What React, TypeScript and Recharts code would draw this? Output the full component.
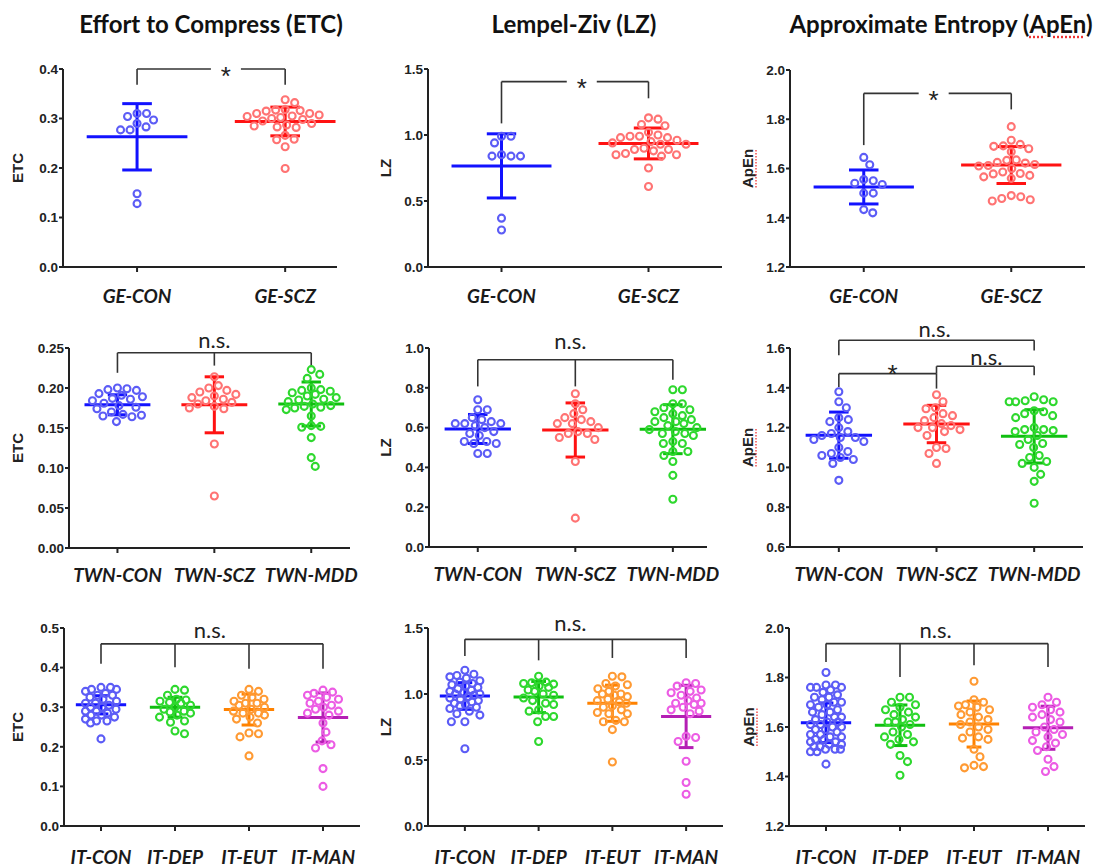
import React from 'react'
import {
  ScatterChart,
  Scatter,
  XAxis,
  YAxis,
  ReferenceLine,
  ReferenceDot,
} from 'recharts'

// group names
const geGroups = ['GE-CON', 'GE-SCZ']
const twnGroups = ['TWN-CON', 'TWN-SCZ', 'TWN-MDD']
const itGroups = ['IT-CON', 'IT-DEP', 'IT-EUT', 'IT-MAN']

// GE cohort
const geEtcCon = [0.31, 0.31, 0.304, 0.297, 0.29, 0.283, 0.277, 0.277, 0.148, 0.128]
const geEtcScz = [0.338, 0.332, 0.318, 0.317, 0.316, 0.315, 0.31, 0.31, 0.307, 0.305, 0.304, 0.302, 0.3, 0.298, 0.295, 0.29, 0.287, 0.285, 0.283, 0.282, 0.266, 0.258, 0.257, 0.243, 0.199]
const geEtcMean = [0.263, 0.294]
const geEtcSd = [0.067, 0.029]

const geLzCon = [0.99, 0.99, 0.94, 0.85, 0.84, 0.84, 0.84, 0.37, 0.28]
const geLzScz = [1.13, 1.12, 1.08, 1.07, 1.02, 1.0, 0.99, 0.99, 0.98, 0.98, 0.96, 0.95, 0.94, 0.93, 0.93, 0.9, 0.89, 0.89, 0.88, 0.86, 0.85, 0.85, 0.84, 0.75, 0.61]
const geLzMean = [0.766, 0.936]
const geLzSd = [0.243, 0.117]

const geApCon = [1.645, 1.615, 1.555, 1.55, 1.54, 1.535, 1.5, 1.5, 1.433, 1.42]
const geApScz = [1.77, 1.715, 1.698, 1.692, 1.69, 1.68, 1.668, 1.635, 1.633, 1.625, 1.622, 1.616, 1.612, 1.61, 1.6, 1.586, 1.58, 1.578, 1.572, 1.566, 1.56, 1.49, 1.485, 1.478, 1.473, 1.468]
const geApMean = [1.525, 1.614]
const geApSd = [0.069, 0.075]

// TWN cohort
const twnEtcCon = [0.2, 0.199, 0.198, 0.197, 0.193, 0.191, 0.189, 0.187, 0.186, 0.184, 0.181, 0.178, 0.176, 0.174, 0.17, 0.167, 0.166, 0.165, 0.164, 0.158]
const twnEtcScz = [0.214, 0.203, 0.2, 0.197, 0.195, 0.192, 0.19, 0.188, 0.186, 0.184, 0.182, 0.18, 0.177, 0.175, 0.174, 0.13, 0.065]
const twnEtcMdd = [0.223, 0.217, 0.212, 0.2, 0.198, 0.197, 0.196, 0.194, 0.192, 0.19, 0.188, 0.186, 0.185, 0.183, 0.18, 0.178, 0.177, 0.176, 0.175, 0.173, 0.165, 0.153, 0.152, 0.151, 0.138, 0.113, 0.102]
const twnEtcMean = [0.179, 0.179, 0.18]
const twnEtcSd = [0.0125, 0.035, 0.0275]

const twnLzCon = [0.74, 0.69, 0.69, 0.65, 0.64, 0.63, 0.62, 0.62, 0.62, 0.61, 0.6, 0.58, 0.57, 0.56, 0.53, 0.53, 0.52, 0.52, 0.47, 0.47]
const twnLzScz = [0.77, 0.72, 0.69, 0.67, 0.65, 0.64, 0.63, 0.62, 0.62, 0.6, 0.58, 0.57, 0.57, 0.55, 0.54, 0.43, 0.145]
const twnLzMdd = [0.79, 0.79, 0.72, 0.72, 0.7, 0.69, 0.68, 0.67, 0.66, 0.65, 0.64, 0.63, 0.63, 0.62, 0.61, 0.6, 0.59, 0.58, 0.57, 0.57, 0.56, 0.53, 0.52, 0.52, 0.48, 0.48, 0.46, 0.43, 0.36, 0.24]
const twnLzMean = [0.593, 0.588, 0.592]
const twnLzSd = [0.073, 0.136, 0.123]

const twnApCon = [1.38, 1.33, 1.3, 1.25, 1.24, 1.23, 1.2, 1.18, 1.17, 1.16, 1.15, 1.15, 1.14, 1.13, 1.1, 1.08, 1.07, 1.06, 1.05, 1.04, 1.02, 0.935]
const twnApScz = [1.365, 1.33, 1.3, 1.295, 1.27, 1.26, 1.25, 1.235, 1.22, 1.21, 1.2, 1.2, 1.19, 1.18, 1.16, 1.1, 1.095, 1.07, 1.02]
const twnApMdd = [1.355, 1.34, 1.335, 1.33, 1.33, 1.33, 1.285, 1.28, 1.27, 1.26, 1.25, 1.2, 1.19, 1.19, 1.185, 1.18, 1.16, 1.14, 1.12, 1.115, 1.1, 1.06, 1.05, 1.03, 1.02, 1.0, 0.965, 0.93, 0.82]
const twnApMean = [1.162, 1.218, 1.156]
const twnApSd = [0.116, 0.094, 0.134]

// IT cohort
const itEtcCon = [0.35, 0.35, 0.345, 0.345, 0.34, 0.335, 0.33, 0.33, 0.325, 0.32, 0.315, 0.31, 0.31, 0.305, 0.3, 0.3, 0.295, 0.29, 0.29, 0.285, 0.28, 0.28, 0.275, 0.27, 0.265, 0.265, 0.26, 0.22]
const itEtcDep = [0.345, 0.343, 0.33, 0.32, 0.318, 0.315, 0.312, 0.31, 0.305, 0.3, 0.295, 0.29, 0.288, 0.285, 0.28, 0.275, 0.265, 0.262, 0.24, 0.233]
const itEtcEut = [0.345, 0.34, 0.33, 0.325, 0.32, 0.315, 0.31, 0.31, 0.305, 0.3, 0.295, 0.29, 0.285, 0.285, 0.28, 0.275, 0.27, 0.26, 0.235, 0.233, 0.225, 0.177]
const itEtcMan = [0.343, 0.338, 0.335, 0.33, 0.325, 0.32, 0.315, 0.31, 0.305, 0.3, 0.295, 0.29, 0.285, 0.28, 0.26, 0.237, 0.215, 0.205, 0.197, 0.145, 0.1]
const itEtcMean = [0.306, 0.3, 0.294, 0.274]
const itEtcSd = [0.023, 0.025, 0.039, 0.062]

const itLzCon = [1.18, 1.15, 1.14, 1.13, 1.12, 1.1, 1.09, 1.08, 1.07, 1.06, 1.05, 1.04, 1.03, 1.02, 1.01, 1.0, 1.0, 0.99, 0.98, 0.97, 0.96, 0.95, 0.94, 0.93, 0.92, 0.91, 0.9, 0.89, 0.87, 0.85, 0.84, 0.79, 0.79, 0.585]
const itLzDep = [1.135, 1.09, 1.085, 1.08, 1.075, 1.06, 1.05, 1.03, 1.02, 1.0, 0.99, 0.97, 0.95, 0.93, 0.92, 0.88, 0.87, 0.83, 0.83, 0.79, 0.64]
const itLzEut = [1.135, 1.13, 1.08, 1.07, 1.06, 1.04, 1.02, 1.0, 1.0, 0.99, 0.98, 0.96, 0.95, 0.94, 0.93, 0.91, 0.9, 0.88, 0.86, 0.85, 0.85, 0.8, 0.79, 0.79, 0.73, 0.485]
const itLzMan = [1.085, 1.08, 1.06, 1.03, 1.02, 1.01, 0.99, 0.97, 0.95, 0.93, 0.93, 0.92, 0.9, 0.88, 0.87, 0.85, 0.68, 0.67, 0.64, 0.49, 0.33, 0.24]
const itLzMean = [0.985, 0.977, 0.93, 0.83]
const itLzSd = [0.101, 0.118, 0.137, 0.236]

const itApCon = [1.82, 1.77, 1.77, 1.76, 1.76, 1.76, 1.75, 1.74, 1.73, 1.72, 1.72, 1.71, 1.7, 1.7, 1.69, 1.69, 1.68, 1.67, 1.66, 1.66, 1.65, 1.64, 1.64, 1.63, 1.62, 1.62, 1.61, 1.61, 1.6, 1.6, 1.59, 1.59, 1.58, 1.57, 1.57, 1.56, 1.56, 1.55, 1.55, 1.54, 1.54, 1.53, 1.53, 1.52, 1.52, 1.51, 1.51, 1.51, 1.5, 1.5, 1.45]
const itApDep = [1.72, 1.72, 1.7, 1.69, 1.68, 1.67, 1.66, 1.65, 1.64, 1.63, 1.62, 1.62, 1.61, 1.6, 1.58, 1.57, 1.56, 1.55, 1.54, 1.53, 1.485, 1.46, 1.405]
const itApEut = [1.785, 1.71, 1.7, 1.69, 1.685, 1.68, 1.67, 1.66, 1.65, 1.64, 1.63, 1.62, 1.61, 1.6, 1.59, 1.58, 1.56, 1.555, 1.55, 1.51, 1.48, 1.445, 1.44, 1.435]
const itApMan = [1.72, 1.7, 1.69, 1.68, 1.67, 1.66, 1.65, 1.64, 1.63, 1.62, 1.6, 1.59, 1.58, 1.57, 1.56, 1.545, 1.535, 1.52, 1.505, 1.47, 1.44, 1.42]
const itApMean = [1.617, 1.607, 1.612, 1.597]
const itApSd = [0.08, 0.082, 0.093, 0.087]

// axis ticks
const etcTicks = [0, 0.1, 0.2, 0.3, 0.4]
const lzTicks = [0, 0.5, 1.0, 1.5]
const apTicks = [1.2, 1.4, 1.6, 1.8, 2.0]
const twnEtcTicks = [0, 0.05, 0.1, 0.15, 0.2, 0.25]
const twnLzTicks = [0, 0.2, 0.4, 0.6, 0.8, 1.0]
const twnApTicks = [0.6, 0.8, 1.0, 1.2, 1.4, 1.6]
const itEtcTicks = [0, 0.1, 0.2, 0.3, 0.4, 0.5]

const blue = { dot: '#5c5cf6', bar: '#1212ff' }
const red = { dot: '#ff7373', bar: '#ff1212' }
const green = { dot: '#2ed82e', bar: '#10bf10' }
const orange = { dot: '#ff9a33', bar: '#ff8200' }
const magenta = { dot: '#ec5ce4', bar: '#b41fb4' }

const AXIS = '#222'
const LBL_FONT = '"Liberation Sans", Arial, sans-serif'
const CAL_FONT = 'Lato, "Open Sans", sans-serif'

type Col = { dot: string; bar: string }
type Bracket = {
  y: number
  from: number
  to: number
  drops: [number, number][]
  text: string
  tx: number
  ty: number
  gap?: boolean
}
type PanelCfg = {
  names: string[]
  series: number[][]
  means: number[]
  sds: number[]
  colors: Col[]
  yDomain: [number, number]
  yTicks: number[]
  dec: number
  xDomain: [number, number]
  box: { left: number; right: number; top: number; bottom: number }
  tickGap: number
  yLabel: string
  yLabelX: number
  brackets: Bracket[]
}

// beeswarm: spread points sideways, but keep them within maxHalf px of the centre
function swarm(values: number[], center: number, pxX: number, pxY: number, spread: number) {
  const d = 9.5
  const maxHalf = spread * pxX
  const sorted = [...values].sort((a, b) => b - a)
  const placed: { px: number; py: number }[] = []
  return sorted.map((v) => {
    const py = v * pxY
    let best = 0
    let bestDist = -1
    for (let k = 0; ; k++) {
      const dx = k === 0 ? 0 : (k % 2 ? 1 : -1) * Math.ceil(k / 2) * 0.5
      if (Math.abs(dx) > maxHalf) break
      let md = Infinity
      for (const p of placed) md = Math.min(md, Math.hypot(p.px - dx, p.py - py))
      if (md >= d) {
        best = dx
        bestDist = md
        break
      }
      if (md > bestDist) {
        bestDist = md
        best = dx
      }
    }
    placed.push({ px: best, py })
    return { x: center + best / pxX, y: v }
  })
}

const ring = (color: string) => (p: any) => (
  <circle cx={p.cx} cy={p.cy} r={3.5} fill="none" stroke={color} strokeWidth={2.1} />
)

const sigLabel = (text: string, gap?: boolean) => (p: any) => (
  <g>
    {gap && <rect x={p.cx - 15} y={p.cy - 7} width={30} height={16} fill="#fff" />}
    <text
      x={p.cx}
      y={p.cy}
      dy={text === '*' ? 9 : -2}
      textAnchor="middle"
      dominantBaseline="central"
      fontFamily={text === '*' ? LBL_FONT : CAL_FONT}
      fontSize={text === '*' ? 26 : 22}
      fill="#222"
    >
      {text}
    </text>
  </g>
)

const panels: PanelCfg[] = [
  {
    names: geGroups, series: [geEtcCon, geEtcScz], means: geEtcMean, sds: geEtcSd, colors: [blue, red],
    yDomain: [0, 0.4], yTicks: etcTicks, dec: 1, xDomain: [-0.5, 1.35],
    box: { left: 63, right: 337, top: 69, bottom: 267 }, tickGap: 18, yLabel: 'ETC', yLabelX: 17,
    brackets: [{ y: 0.4, from: 0, to: 1, drops: [[0, 0.368], [1, 0.368]], text: '*', tx: 0.6, ty: 0.405, gap: true }],
  },
  {
    names: geGroups, series: [geLzCon, geLzScz], means: geLzMean, sds: geLzSd, colors: [blue, red],
    yDomain: [0, 1.5], yTicks: lzTicks, dec: 1, xDomain: [-0.5, 1.5],
    box: { left: 428, right: 722, top: 69, bottom: 267 }, tickGap: 18, yLabel: 'LZ', yLabelX: 385,
    brackets: [{ y: 1.404, from: 0, to: 1, drops: [[0, 1.088], [1, 1.278]], text: '*', tx: 0.546, ty: 1.425, gap: true }],
  },
  {
    names: geGroups, series: [geApCon, geApScz], means: geApMean, sds: geApSd, colors: [blue, red],
    yDomain: [1.2, 2.0], yTicks: apTicks, dec: 1, xDomain: [-0.5, 1.5],
    box: { left: 790, right: 1085, top: 70, bottom: 267 }, tickGap: 18, yLabel: 'ApEn', yLabelX: 747,
    brackets: [{ y: 1.905, from: 0, to: 1, drops: [[0, 1.695], [1, 1.84]], text: '*', tx: 0.474, ty: 1.913, gap: true }],
  },
  {
    names: twnGroups, series: [twnEtcCon, twnEtcScz, twnEtcMdd], means: twnEtcMean, sds: twnEtcSd, colors: [blue, red, green],
    yDomain: [0, 0.25], yTicks: twnEtcTicks, dec: 2, xDomain: [-0.5, 2.4],
    box: { left: 69, right: 350, top: 348, bottom: 548 }, tickGap: 16, yLabel: 'ETC', yLabelX: 17,
    brackets: [{ y: 0.244, from: 0, to: 2, drops: [[0, 0.219], [1, 0.228], [2, 0.227]], text: 'n.s.', tx: 1, ty: 0.258 }],
  },
  {
    names: twnGroups, series: [twnLzCon, twnLzScz, twnLzMdd], means: twnLzMean, sds: twnLzSd, colors: [blue, red, green],
    yDomain: [0, 1.0], yTicks: twnLzTicks, dec: 1, xDomain: [-0.5, 2.35],
    box: { left: 429, right: 707, top: 348, bottom: 547 }, tickGap: 16, yLabel: 'LZ', yLabelX: 385,
    brackets: [{ y: 0.941, from: 0, to: 2, drops: [[0, 0.807], [1, 0.807], [2, 0.84]], text: 'n.s.', tx: 0.95, ty: 1.027 }],
  },
  {
    names: twnGroups, series: [twnApCon, twnApScz, twnApMdd], means: twnApMean, sds: twnApSd, colors: [blue, red, green],
    yDomain: [0.6, 1.6], yTicks: twnApTicks, dec: 1, xDomain: [-0.5, 2.5],
    box: { left: 790, right: 1083, top: 348, bottom: 547 }, tickGap: 16, yLabel: 'ApEn', yLabelX: 747,
    brackets: [
      { y: 1.639, from: 0, to: 2, drops: [[0, 1.563], [2, 1.588]], text: 'n.s.', tx: 0.98, ty: 1.69 },
      { y: 1.471, from: 0, to: 1, drops: [[0, 1.404], [1, 1.396]], text: '*', tx: 0.55, ty: 1.513 },
      { y: 1.508, from: 1, to: 2, drops: [[1, 1.471], [2, 1.463]], text: 'n.s.', tx: 1.51, ty: 1.548 },
    ],
  },
  {
    names: itGroups, series: [itEtcCon, itEtcDep, itEtcEut, itEtcMan], means: itEtcMean, sds: itEtcSd, colors: [blue, green, orange, magenta],
    yDomain: [0, 0.5], yTicks: itEtcTicks, dec: 1, xDomain: [-0.5, 3.5],
    box: { left: 64, right: 360, top: 628, bottom: 826 }, tickGap: 20, yLabel: 'ETC', yLabelX: 17,
    brackets: [{ y: 0.46, from: 0, to: 3, drops: [[0, 0.41], [1, 0.401], [2, 0.397], [3, 0.397]], text: 'n.s.', tx: 1.47, ty: 0.492 }],
  },
  {
    names: itGroups, series: [itLzCon, itLzDep, itLzEut, itLzMan], means: itLzMean, sds: itLzSd, colors: [blue, green, orange, magenta],
    yDomain: [0, 1.5], yTicks: lzTicks, dec: 1, xDomain: [-0.5, 3.5],
    box: { left: 428, right: 723, top: 628, bottom: 826 }, tickGap: 20, yLabel: 'LZ', yLabelX: 385,
    brackets: [{ y: 1.414, from: 0, to: 3, drops: [[0, 1.288], [1, 1.255], [2, 1.273], [3, 1.273]], text: 'n.s.', tx: 1.43, ty: 1.525 }],
  },
  {
    names: itGroups, series: [itApCon, itApDep, itApEut, itApMan], means: itApMean, sds: itApSd, colors: [blue, green, orange, magenta],
    yDomain: [1.2, 2.0], yTicks: apTicks, dec: 1, xDomain: [-0.5, 3.5],
    box: { left: 789, right: 1085, top: 628, bottom: 826 }, tickGap: 20, yLabel: 'ApEn', yLabelX: 748,
    brackets: [{ y: 1.937, from: 0, to: 3, drops: [[0, 1.863], [1, 1.802], [2, 1.849], [3, 1.842]], text: 'n.s.', tx: 1.48, ty: 1.986 }],
  },
]

function Panel({ cfg }: { cfg: PanelCfg }) {
  const { box } = cfg
  const plotW = box.right - box.left
  const plotH = box.bottom - box.top
  const pxX = plotW / (cfg.xDomain[1] - cfg.xDomain[0])
  const pxY = plotH / (cfg.yDomain[1] - cfg.yDomain[0])
  const W = 60 + plotW + 12
  const H = 45 + plotH + 45
  const meanHalf = 0.34
  const capHalf = 0.1
  const spread = cfg.names.length === 4 ? 0.21 : cfg.names.length === 3 ? 0.26 : 0.28

  return (
    <div style={{ position: 'absolute', left: box.left - 60, top: box.top - 45 }}>
      <ScatterChart width={W} height={H} margin={{ top: 45, right: 12, bottom: 0, left: 0 }}>
        <XAxis
          type="number"
          dataKey="x"
          domain={cfg.xDomain}
          ticks={cfg.names.map((_, i) => i)}
          interval={0}
          allowDataOverflow
          tickFormatter={(v) => cfg.names[v] ?? ''}
          height={45}
          axisLine={{ stroke: AXIS, strokeWidth: 2 }}
          tickLine={{ stroke: AXIS, strokeWidth: 2 }}
          tickSize={5}
          tickMargin={cfg.tickGap}
          tick={{ fontSize: 19, fontWeight: 700, fontStyle: 'italic', fill: '#1a1a1a', fontFamily: CAL_FONT }}
        />
        <YAxis
          type="number"
          dataKey="y"
          domain={cfg.yDomain}
          ticks={cfg.yTicks}
          interval={0}
          allowDataOverflow
          tickFormatter={(v) => Number(v).toFixed(cfg.dec)}
          width={60}
          axisLine={{ stroke: AXIS, strokeWidth: 2 }}
          tickLine={{ stroke: AXIS, strokeWidth: 2 }}
          tickSize={4}
          tickMargin={1}
          tick={{ fontSize: 13.5, fontWeight: 700, fill: AXIS, fontFamily: LBL_FONT }}
        />
        {cfg.series.map((vals, i) => (
          <Scatter
            key={`s${i}`}
            data={swarm(vals, i, pxX, pxY, spread)}
            isAnimationActive={false}
            shape={ring(cfg.colors[i].dot)}
          />
        ))}
        {cfg.means.map((m, i) => {
          const c = cfg.colors[i].bar
          const lo = m - cfg.sds[i]
          const hi = m + cfg.sds[i]
          return [
            <ReferenceLine key={`m${i}`} ifOverflow="visible" stroke={c} strokeWidth={3}
              segment={[{ x: i - meanHalf, y: m }, { x: i + meanHalf, y: m }]} />,
            <ReferenceLine key={`v${i}`} ifOverflow="visible" stroke={c} strokeWidth={3}
              segment={[{ x: i, y: lo }, { x: i, y: hi }]} />,
            <ReferenceLine key={`h${i}`} ifOverflow="visible" stroke={c} strokeWidth={3}
              segment={[{ x: i - capHalf, y: hi }, { x: i + capHalf, y: hi }]} />,
            <ReferenceLine key={`l${i}`} ifOverflow="visible" stroke={c} strokeWidth={3}
              segment={[{ x: i - capHalf, y: lo }, { x: i + capHalf, y: lo }]} />,
          ]
        })}
        {cfg.brackets.map((b, j) => [
          <ReferenceLine key={`b${j}`} ifOverflow="visible" stroke="#333" strokeWidth={1.6}
            segment={[{ x: b.from, y: b.y }, { x: b.to, y: b.y }]} />,
          ...b.drops.map(([dx, dy], k) => (
            <ReferenceLine key={`d${j}-${k}`} ifOverflow="visible" stroke="#333" strokeWidth={1.6}
              segment={[{ x: dx, y: b.y }, { x: dx, y: dy }]} />
          )),
          <ReferenceDot key={`t${j}`} x={b.tx} y={b.ty} r={0} ifOverflow="visible" shape={sigLabel(b.text, b.gap)} />,
        ])}
      </ScatterChart>
    </div>
  )
}

const titles = [
  { text: 'Effort to Compress (ETC)', x: 211 },
  { text: 'Lempel-Ziv (LZ)', x: 574 },
  { text: 'Approximate Entropy (', x: 941, underline: 'ApEn', tail: ')' },
]

export default function App() {
  return (
    <div
      style={{
        position: 'absolute',
        left: 0,
        top: 0,
        width: 1107,
        height: 868,
        background: '#fff',
        overflow: 'hidden',
      }}
    >
      {titles.map((t) => (
        <div
          key={t.x}
          style={{
            position: 'absolute',
            left: t.x - 200,
            top: 9,
            width: 400,
            textAlign: 'center',
            fontFamily: CAL_FONT,
            fontWeight: 700,
            fontSize: 24,
            lineHeight: '30px',
            color: '#111',
            whiteSpace: 'nowrap',
          }}
        >
          {t.text}
          {t.underline && (
            <span style={{ textDecoration: 'underline dotted #e33', textUnderlineOffset: 3 }}>{t.underline}</span>
          )}
          {t.tail}
        </div>
      ))}

      <svg width={1107} height={868} style={{ position: 'absolute', left: 0, top: 0, pointerEvents: 'none' }}>
        {panels.map((p, i) => {
          const cy = (p.box.top + p.box.bottom) / 2
          const isAp = p.yLabel === 'ApEn'
          return (
            <g key={i} transform={`translate(${p.yLabelX},${cy}) rotate(-90)`}>
              <text
                textAnchor="middle"
                dominantBaseline="central"
                fontFamily={LBL_FONT}
                fontWeight={700}
                fontSize={15}
                fill={AXIS}
              >
                {p.yLabel}
              </text>
              {isAp && (
                <line x1={-19} x2={19} y1={9} y2={9} stroke="#e33" strokeWidth={1.3} strokeDasharray="1.5 1.5" />
              )}
            </g>
          )
        })}
      </svg>

      {panels.map((p, i) => (
        <Panel key={i} cfg={p} />
      ))}
    </div>
  )
}
